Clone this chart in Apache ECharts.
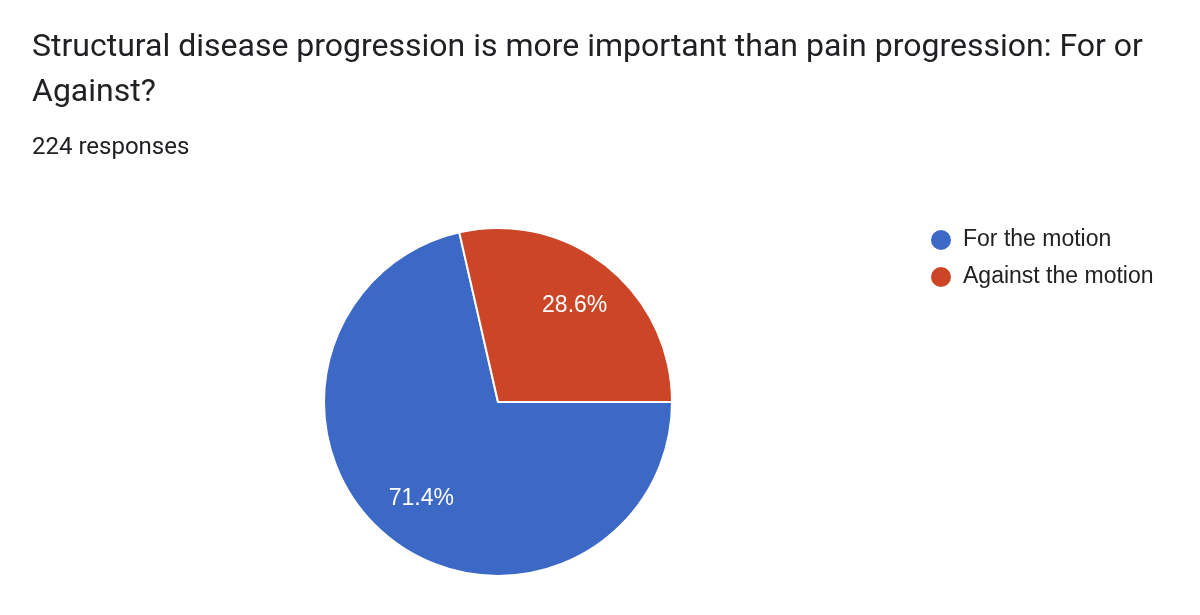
<!DOCTYPE html>
<html>
<head>
<meta charset="utf-8">
<script src="https://cdn.jsdelivr.net/npm/echarts@6/dist/echarts.min.js"></script>
<style>
	html, body { margin: 0; padding: 0; background: #fff; }
	#main { width: 1200px; height: 615px; }
</style>
</head>
<body>
<div id="main"></div>
<script>
// data
var titleText = 'Structural disease progression is more important than pain progression: For or\nAgainst?';
var subText = '224 responses';
var categories = ['For the motion', 'Against the motion'];
var counts = [160, 64];
var colors = ['#3d69c6', '#cc4526'];

var myChart = echarts.init(document.getElementById('main'));

var pieData = categories.map(function (name, i) {
	return { name: name, value: counts[i] };
});

var option = {
	backgroundColor: '#fff',
	color: colors,
	animation: false,
	title: {
		text: titleText,
		subtext: subText,
		left: 27,
		top: 20,
		itemGap: 21,
		textStyle: {
			fontFamily: 'Roboto',
			fontSize: 32,
			fontWeight: 'normal',
			color: '#202124',
			lineHeight: 45
		},
		subtextStyle: {
			fontFamily: 'Roboto',
			fontSize: 24,
			color: '#202124',
			lineHeight: 24
		}
	},
	legend: {
		orient: 'vertical',
		left: 924,
		top: 223,
		icon: 'circle',
		itemWidth: 22,
		itemHeight: 22,
		itemGap: 13,
		textStyle: {
			fontFamily: 'Liberation Sans',
			fontSize: 23,
			lineHeight: 22,
			color: '#222',
			padding: [0, 0, 0, 6]
		}
	},
	series: [{
		// the pie itself
		type: 'pie',
		center: [498, 402],
		radius: [0, 174],
		startAngle: 0,
		clockwise: true,
		data: pieData,
		itemStyle: {
			borderColor: '#fff',
			borderWidth: 2
		},
		label: { show: false },
		labelLine: { show: false },
		emphasis: { disabled: true }
	}, {
		// invisible copy only to place the percent labels further out
		type: 'pie',
		center: [498, 402],
		radius: [0, 240],
		startAngle: 0,
		clockwise: true,
		silent: true,
		data: pieData,
		itemStyle: { color: 'transparent', borderWidth: 0 },
		label: {
			position: 'inside',
			formatter: function (p) {
				return p.percent.toFixed(1) + '%';
			},
			fontFamily: 'Liberation Sans',
			fontSize: 23,
			color: '#fff'
		},
		labelLine: { show: false },
		emphasis: { disabled: true },
		z: 3
	}]
};

myChart.setOption(option);
</script>
</body>
</html>
